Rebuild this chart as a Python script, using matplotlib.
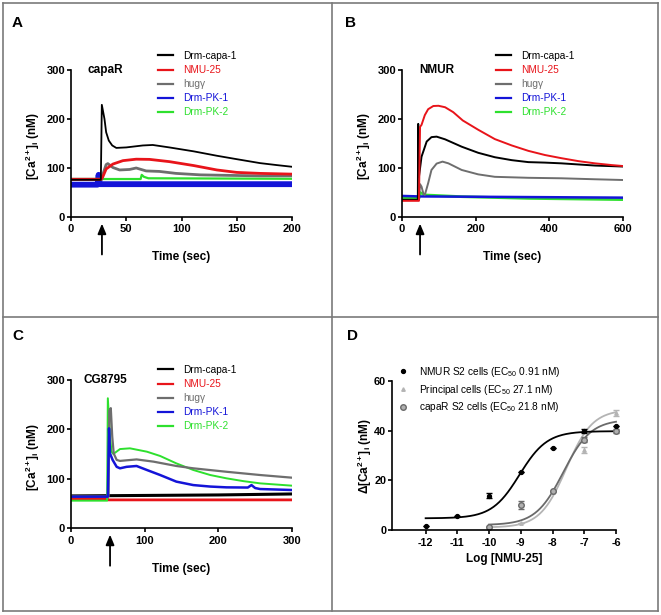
import numpy as np
import matplotlib
matplotlib.use('Agg')
import matplotlib.pyplot as plt
from matplotlib.lines import Line2D

plt.rcParams['font.family'] = ['Liberation Sans', 'DejaVu Sans']
plt.rcParams['mathtext.fontset'] = 'custom'
plt.rcParams['mathtext.rm'] = 'Liberation Sans'
plt.rcParams['mathtext.bf'] = 'Liberation Sans:bold'
plt.rcParams['mathtext.it'] = 'Liberation Sans:italic'
plt.rcParams['axes.unicode_minus'] = False

# ---------------- data ----------------
series_names = ['Drm-capa-1', 'NMU-25', 'hugγ', 'Drm-PK-1', 'Drm-PK-2']
series_colors = ['#000000', '#e8141a', '#6e6e6e', '#1414d8', '#2ee02e']

# Panel A (capaR)
A_capa_t = [0, 27, 27.9, 30.3, 31.8, 34.2, 37.3, 41, 50, 65, 74, 89, 111, 132, 150, 171, 186, 200]
A_capa = [76, 76, 229, 200, 173, 156, 146, 141, 142, 146, 147, 142, 134, 125, 118, 110, 106, 102.5]
A_nmu_t = [0, 27.3, 28.8, 31.8, 37.9, 47, 59, 71, 89, 111, 132, 150, 171, 200]
A_nmu = [77, 77, 82, 98, 108, 115, 118, 117.6, 113, 105, 96, 91, 89, 87.5]
A_hug_t = [0, 28, 28.8, 31.8, 33.3, 37.9, 44, 53, 59, 62, 68, 80, 95, 117, 141, 171, 200]
A_hug = [77, 77, 87, 107, 109, 101, 96, 97, 100, 98, 94, 93, 89, 86, 85, 84, 84]
A_pk1_t = [0, 24, 25, 26, 200]
A_pk1 = [66, 66, 86, 67, 67]
A_pk2_t = [0, 63, 64, 66, 70, 200]
A_pk2 = [77.5, 77.5, 86, 82, 79, 78]

# Panel B (NMUR)
B_capa_t = [0, 43, 44, 46, 53, 67, 80, 94, 117, 162, 207, 252, 298, 343, 388, 433, 524, 600]
B_capa = [35, 35, 190, 82, 123, 154, 163, 164, 158.5, 143.5, 131, 122, 116, 112, 111, 109.5, 105, 103]
B_nmu_t = [0, 46, 49, 53, 62, 71, 85, 99, 117, 139, 165, 207, 252, 298, 343, 388, 433, 479, 524, 569, 600]
B_nmu = [33, 33, 184, 188, 208, 220, 226.5, 227, 224, 214, 197, 178, 159, 146, 135, 126.5, 120, 114, 109.5, 106, 104]
B_hug_t = [0, 46, 49, 53, 58, 62, 71, 80, 94, 110, 126, 162, 207, 252, 343, 433, 524, 600]
B_hug = [35, 35, 67, 62, 48, 45, 69, 96, 109, 113, 109.5, 96, 87, 82, 80, 79, 77, 75.5]
B_pk1_t = [0, 47, 600]
B_pk1 = [43, 42, 39.5]
B_pk2_t = [0, 46, 49, 62, 162, 343, 600]
B_pk2 = [38, 38, 50, 45, 41.5, 38, 35.5]

# Panel C (CG8795)
C_capa_t = [0, 100, 200, 300]
C_capa = [65, 66, 67, 69]
C_nmu_t = [0, 49, 50, 300]
C_nmu = [59, 59, 57, 57]
C_hug_t = [0, 51, 52, 54, 56, 58, 62, 66.5, 89, 112, 143, 166, 211, 256.6, 300]
C_hug = [64, 64, 238, 243, 185, 151, 138, 136, 139, 134.5, 125.7, 121, 114, 107.4, 102]
C_pk1_t = [0, 50, 51.6, 53, 56.5, 62, 66.5, 75.5, 89, 103, 121, 143, 166, 189, 211, 240, 245, 250, 256.6, 300]
C_pk1 = [63.5, 63.5, 202, 151, 138, 124, 121, 124, 125.7, 117.6, 107.4, 94, 87, 84, 82.4, 82, 87, 81, 79, 77]
C_pk2_t = [0, 49, 50, 53, 55, 57.5, 66.5, 80, 103, 121, 143, 166, 189, 211, 234, 256.6, 300]
C_pk2 = [55.4, 55.4, 263, 185, 155, 150, 160, 161.5, 154.7, 146, 131, 117.6, 107.4, 100.7, 95, 90.5, 85.8]

# Panel D (dose response)
D_logc = [-12, -11, -10, -9, -8, -7, -6]
D_nmur = [1.6, 5.8, 13.7, 23.2, 33.0, 40.0, 42.0]
D_nmur_err = [0, 0, 1.0, 0, 0, 0.8, 0]
D_prin_logc = [-10, -9, -8, -7, -6]
D_prin = [1.2, 2.7, 15.5, 32.3, 47.2]
D_prin_err = [0, 0, 0, 1.2, 1.2]
D_capar_logc = [-10, -9, -8, -7, -6]
D_capar = [1.3, 10.1, 15.9, 36.4, 39.8]
D_capar_err = [0, 1.5, 0, 1.0, 0.8]
# fitted 4-parameter logistic curves (bottom, top, logEC50, hill)
fit_nmur = (4.7, 39.8, np.log10(0.91e-9), 1.0)
fit_prin = (1.0, 48.5, np.log10(27.1e-9), 1.05)
fit_capar = (2.0, 44.5, np.log10(21.8e-9), 1.0)
D_labels = ['NMUR S2 cells (EC$_{50}$ 0.91 nM)', 'Principal cells (EC$_{50}$ 27.1 nM)',
            'capaR S2 cells (EC$_{50}$ 21.8 nM)']

# ---------------- layout helpers ----------------
W, H = 661, 615
fig = plt.figure(figsize=(W / 100, H / 100), dpi=100)


def rect(l, t, r, b):
    return [l / W, 1 - b / H, (r - l) / W, (b - t) / H]


def fx(px):
    return px / W


def fy(py):
    return 1 - py / H


# outer frame and dividers
frame_c = '#7a7a7a'
for (x0, y0, x1, y1) in [(3, 3, 658, 3), (3, 611, 658, 611), (3, 3, 3, 611), (658, 3, 658, 611),
                         (332, 3, 332, 611), (3, 317, 658, 317)]:
    fig.add_artist(Line2D([fx(x0), fx(x1)], [fy(y0), fy(y1)], transform=fig.transFigure,
                          color=frame_c, lw=1.2))

ylab = r'[Ca$^{\mathbf{2+}}$]$_{\mathbf{i}}$ (nM)'


def style_axes(ax, size=8):
    for s in ['top', 'right']:
        ax.spines[s].set_visible(False)
    for s in ['left', 'bottom']:
        ax.spines[s].set_linewidth(1.2)
    ax.tick_params(direction='out', length=3.2, width=1.2, labelsize=size)
    ax.tick_params(axis='x', pad=2.2)
    ax.tick_params(axis='y', pad=1.0)
    for lab in ax.get_xticklabels() + ax.get_yticklabels():
        lab.set_fontweight('bold')


def trace_panel(ax, data, xmax, xticks, title, title_xy, arrow_t, legend_xy, widths):
    order = data['order']
    handles = []
    for i in order:
        t, y = data['series'][i]
        ax.plot(t, y, color=series_colors[i], lw=widths[i], solid_joinstyle='round')
    for i in range(5):
        handles.append(Line2D([], [], color=series_colors[i], lw=1.6, label=series_names[i]))
    ax.set_xlim(0, xmax)
    ax.set_ylim(0, 300)
    ax.set_xticks(xticks)
    ax.set_yticks([0, 100, 200, 300])
    style_axes(ax)
    ax.set_xlabel('Time (sec)', fontsize=8.5, fontweight='bold')
    ax.xaxis.label.set_va('center')
    ax.xaxis.set_label_coords(0.5, -0.275)
    ax.set_ylabel(ylab, fontsize=8.5, fontweight='bold')
    ax.yaxis.label.set_va('center')
    ax.yaxis.set_label_coords(-0.172, 0.48)
    fig.text(fx(title_xy[0]), fy(title_xy[1]), title, fontsize=8.5, fontweight='bold', va='center', ha='left')
    ax.annotate('', xy=(arrow_t, -0.045), xycoords=('data', 'axes fraction'),
                xytext=(arrow_t, -0.255), textcoords=('data', 'axes fraction'),
                arrowprops=dict(arrowstyle='-|>,head_length=0.6,head_width=0.25', color='k', lw=1.3,
                                shrinkA=0, shrinkB=0),
                annotation_clip=False)
    leg = ax.legend(handles=handles, loc='upper left', bbox_to_anchor=(fx(legend_xy[0]), fy(legend_xy[1])),
                    bbox_transform=fig.transFigure, frameon=False, fontsize=7.3, handlelength=1.5,
                    handletextpad=0.95, labelspacing=0.4, borderpad=0, borderaxespad=0,
                    labelcolor='linecolor')
    return leg


# Panel A
axA = fig.add_axes(rect(71, 70, 292, 217))
trace_panel(axA, {'series': [(A_capa_t, A_capa), (A_nmu_t, A_nmu), (A_hug_t, A_hug), (A_pk1_t, A_pk1),
                             (A_pk2_t, A_pk2)], 'order': [3, 4, 2, 1, 0]},
            200, [0, 50, 100, 150, 200], 'capaR', (87, 70), 28, (158, 51),
            [1.3, 2.0, 2.0, 4.2, 1.6])

# Panel B
axB = fig.add_axes(rect(402, 70, 623, 217))
trace_panel(axB, {'series': [(B_capa_t, B_capa), (B_nmu_t, B_nmu), (B_hug_t, B_hug), (B_pk1_t, B_pk1),
                             (B_pk2_t, B_pk2)], 'order': [4, 3, 2, 0, 1]},
            600, [0, 200, 400, 600], 'NMUR', (419, 70), 49, (496, 51),
            [1.4, 1.4, 1.4, 1.8, 2.0])

# Panel C
axC = fig.add_axes(rect(71, 380, 292, 528))
trace_panel(axC, {'series': [(C_capa_t, C_capa), (C_nmu_t, C_nmu), (C_hug_t, C_hug), (C_pk1_t, C_pk1),
                             (C_pk2_t, C_pk2)], 'order': [1, 0, 4, 2, 3]},
            300, [0, 100, 200, 300], 'CG8795', (83, 380), 53, (158, 365),
            [2.2, 2.0, 1.6, 1.8, 1.4])

# Panel D
axD = fig.add_axes(rect(392, 381, 616, 530))


def logistic(x, p):
    b, t, ec, h = p
    return b + (t - b) / (1 + 10 ** ((ec - x) * h))


xx1 = np.linspace(-12, -6, 200)
xx2 = np.linspace(-10, -6, 200)
axD.plot(xx2, logistic(xx2, fit_prin), color='#b4b4b4', lw=1.3, clip_on=False)
axD.plot(xx2, logistic(xx2, fit_capar), color='#6a6a6a', lw=1.3, clip_on=False)
axD.plot(xx1, logistic(xx1, fit_nmur), color='#000000', lw=1.3, clip_on=False)
axD.errorbar(D_prin_logc, D_prin, yerr=D_prin_err, fmt='^', ms=2.5, color='#b4b4b4', mec='#b4b4b4',
             ecolor='#b4b4b4', elinewidth=1, capsize=2, capthick=1, clip_on=False)
axD.errorbar(D_capar_logc, D_capar, yerr=D_capar_err, fmt='o', ms=4, mfc='#b0b0b0', mec='#6a6a6a',
             mew=1, ecolor='#6a6a6a', elinewidth=1, capsize=2, capthick=1, clip_on=False)
axD.errorbar(D_logc, D_nmur, yerr=D_nmur_err, fmt='o', ms=2.8, color='k', ecolor='k', elinewidth=1,
             capsize=2, capthick=1, clip_on=False)
axD.set_xlim(-13.06, -6)
axD.set_ylim(0, 60)
axD.set_xticks([-12, -11, -10, -9, -8, -7, -6])
axD.set_yticks([0, 20, 40, 60])
style_axes(axD, size=7.8)
axD.set_xlabel('Log [NMU-25]', fontsize=8.5, fontweight='bold')
axD.xaxis.label.set_va('center')
axD.xaxis.set_label_coords(0.5, -0.195)
axD.set_ylabel(r'Δ[Ca$^{\mathbf{2+}}$]$_{\mathbf{i}}$ (nM)', fontsize=8.5, fontweight='bold')
axD.yaxis.label.set_va('center')
axD.yaxis.set_label_coords(-0.122, 0.5)
hD = [Line2D([], [], ls='none', marker='o', ms=2.8, color='k'),
      Line2D([], [], ls='none', marker='^', ms=2.5, color='#b4b4b4'),
      Line2D([], [], ls='none', marker='o', ms=4, mfc='#b0b0b0', mec='#6a6a6a', mew=1)]
axD.legend(hD, D_labels, loc='upper left', bbox_to_anchor=(fx(398), fy(365)), bbox_transform=fig.transFigure,
           frameon=False, fontsize=7.3, handlelength=1.0, handletextpad=1.1, labelspacing=0.36,
           borderpad=0, borderaxespad=0)

# panel letters
for letter, (px, py) in zip('ABCD', [(12, 23), (345, 23), (12, 336), (347, 336)]):
    fig.text(fx(px), fy(py), letter, fontsize=11, fontweight='bold', ha='left', va='center')

fig.savefig('out.png', dpi=100)
